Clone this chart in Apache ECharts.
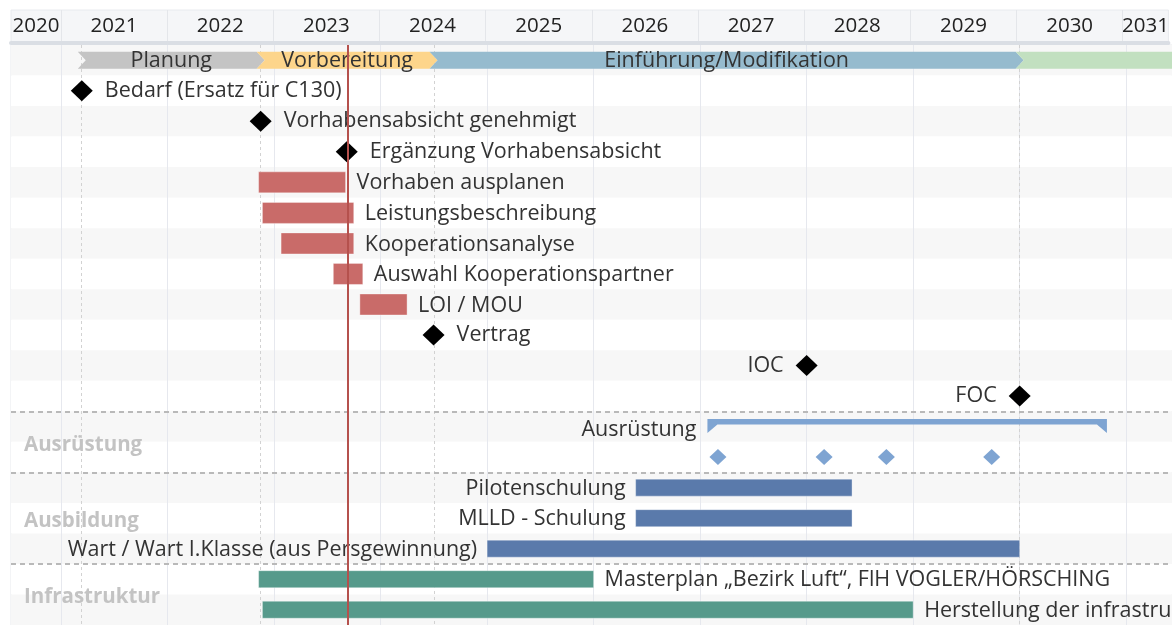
<!DOCTYPE html>
<html lang="de">
<head>
<meta charset="utf-8">
<title>Zeitplan</title>
<script src="https://cdn.jsdelivr.net/npm/echarts@6.0.0/dist/echarts.min.js"></script>
<style>
    html, body { margin: 0; padding: 0; background: #fff; }
    #gantt { width: 1172px; height: 625px; }
</style>
</head>
<body>
<div id="gantt"></div>
<script>
// sichtbarer Zeitraum, Jahresgrenzen, heutiges Datum
var viewStart = '2020-07-13';
var viewEnd = '2031-06-07';
var years = [2020, 2021, 2022, 2023, 2024, 2025, 2026, 2027, 2028, 2029, 2030, 2031];
var today = '2023-09-11';

// Zeilen von oben nach unten
var rowNames = [
    'Phasen',
    'Bedarf (Ersatz für C130)',
    'Vorhabensabsicht genehmigt',
    'Ergänzung Vorhabensabsicht',
    'Vorhaben ausplanen',
    'Leistungsbeschreibung',
    'Kooperationsanalyse',
    'Auswahl Kooperationspartner',
    'LOI / MOU',
    'Vertrag',
    'IOC',
    'FOC',
    'Ausrüstung',
    'Lieferungen',
    'Pilotenschulung',
    'MLLD - Schulung',
    'Wart / Wart I.Klasse (aus Persgewinnung)',
    'Masterplan „Bezirk Luft“, FlH VOGLER/HÖRSCHING',
    'Herstellung der infrastrukturellen Voraussetzungen'
];
var rowGroups = ['', '', '', '', '', '', '', '', '', '', '', '',
    'Ausrüstung', 'Ausrüstung',
    'Ausbildung', 'Ausbildung', 'Ausbildung',
    'Infrastruktur', 'Infrastruktur'];

// Phasen
var phaseNames = ['Planung', 'Vorbereitung', 'Einführung/Modifikation', ''];
var phaseStarts = ['2021-03-13', '2022-11-16', '2024-07-01', '2030-01-01'];
var phaseEnds = ['2022-11-16', '2024-07-01', '2030-01-01', '2036-01-01'];

// Meilensteine
var milestoneNames = ['Bedarf (Ersatz für C130)', 'Vorhabensabsicht genehmigt', 'Ergänzung Vorhabensabsicht', 'Vertrag', 'IOC', 'FOC'];
var milestoneDates = ['2021-03-13', '2022-11-16', '2023-09-07', '2024-07-01', '2028-01-01', '2030-01-01'];

// Vorgänge
var taskNames = [
    'Vorhaben ausplanen',
    'Leistungsbeschreibung',
    'Kooperationsanalyse',
    'Auswahl Kooperationspartner',
    'LOI / MOU',
    'Pilotenschulung',
    'MLLD - Schulung',
    'Wart / Wart I.Klasse (aus Persgewinnung)',
    'Masterplan „Bezirk Luft“, FlH VOGLER/HÖRSCHING',
    'Herstellung der infrastrukturellen Voraussetzungen'
];
var taskStarts = ['2022-11-09', '2022-11-22', '2023-01-25', '2023-07-23', '2023-10-22', '2026-05-25', '2026-05-25', '2025-01-01', '2022-11-09', '2022-11-22'];
var taskEnds = ['2023-09-03', '2023-10-01', '2023-10-01', '2023-11-01', '2024-04-01', '2028-06-05', '2028-06-05', '2030-01-01', '2026-01-01', '2029-01-01'];

// Ausrüstung: Sammelbalken und Lieferungen
var equipName = 'Ausrüstung';
var equipStart = '2027-01-26';
var equipEnd = '2030-10-27';
var deliveryRow = 'Lieferungen';
var deliveryDates = ['2027-03-03', '2028-03-01', '2028-10-01', '2029-09-27'];


var FONT = '"Open Sans", "Noto Sans", sans-serif';
var FS = 21.5;
var phaseColors = ['#c4c4c4', '#fdd58b', '#96bbce', '#c2e0c0'];
var groupColors = { '': '#c96b69', 'Ausbildung': '#5a7aab', 'Infrastruktur': '#569a8b' };
var equipColor = '#7ea4d2';
var labelLeft = ['IOC', 'FOC', 'Ausrüstung', 'Pilotenschulung', 'MLLD - Schulung', 'Wart / Wart I.Klasse (aus Persgewinnung)'];

// Datum -> Jahr mit Nachkommastellen
function toYear(s) {
    var p = s.split('-').map(Number);
    var t = Date.UTC(p[0], p[1] - 1, p[2]);
    var a = Date.UTC(p[0], 0, 1);
    var b = Date.UTC(p[0] + 1, 0, 1);
    return p[0] + (t - a) / (b - a);
}

var xMin = toYear(viewStart);
var xMax = toYear(viewEnd);

// Jahresbeschriftung in der Mitte des sichtbaren Teils
var headerLabelValues = [];
years.forEach(function (y) {
    var a = Math.max(y, xMin), b = Math.min(y + 1, xMax);
    if (b > a) headerLabelValues.push((a + b) / 2);
});

// Gruppen und Trennlinien
var groupList = [];
var groupData = [];
rowGroups.forEach(function (g, i) {
    if (g === '') return;
    var k = groupList.indexOf(g);
    if (k < 0) {
        groupList.push(g);
        groupData.push([i, i + 1]);
    } else {
        groupData[k][1] = i + 1;
    }
});
var separators = [];
for (var i = 1; i < rowGroups.length; i++) {
    if (rowGroups[i] !== rowGroups[i - 1]) separators.push({ yAxis: i });
}

var phaseData = phaseNames.map(function (n, i) {
    return [toYear(phaseStarts[i]), toYear(phaseEnds[i]), 0];
});
var taskData = taskNames.map(function (n, i) {
    return [toYear(taskStarts[i]), toYear(taskEnds[i]), rowNames.indexOf(n)];
});
var milestoneData = milestoneNames.map(function (n, i) {
    return {
        name: n,
        value: [toYear(milestoneDates[i]), rowNames.indexOf(n) + 0.5],
        label: { position: labelLeft.indexOf(n) >= 0 ? 'left' : 'right' }
    };
});
var deliveryData = deliveryDates.map(function (d) {
    return [toYear(d), rowNames.indexOf(deliveryRow) + 0.5];
});
var equipData = [[toYear(equipStart), toYear(equipEnd), rowNames.indexOf(equipName)]];
var boundaryLines = phaseStarts.map(function (d) {
    return { xAxis: toYear(d) };
});


function renderPhase(params, api) {
    var row = api.value(2) + 0.5;
    var s = api.coord([api.value(0), row]);
    var e = api.coord([api.value(1), row]);
    var h = 17, d = 8;
    var y0 = s[1] - h / 2, y1 = s[1] + h / 2;
    var x0 = s[0] - d / 2, x1 = e[0] - d / 2;
    var name = phaseNames[params.dataIndex];
    return {
        type: 'group',
        children: [{
            type: 'polygon',
            shape: { points: [[x0, y0], [x1, y0], [x1 + d, s[1]], [x1, y1], [x0, y1], [x0 + d, s[1]]] },
            style: { fill: phaseColors[params.dataIndex] }
        }, {
            type: 'text',
            style: {
                text: name, x: (s[0] + e[0]) / 2, y: s[1] + 1,
                align: 'center', verticalAlign: 'middle',
                font: FS + 'px ' + FONT, fill: '#333'
            }
        }]
    };
}

function renderTask(params, api) {
    var row = api.value(2) + 0.5;
    var s = api.coord([api.value(0), row]);
    var e = api.coord([api.value(1), row]);
    var name = taskNames[params.dataIndex];
    var grp = rowGroups[api.value(2)];
    var h = grp === '' ? 21 : 17;
    var left = labelLeft.indexOf(name) >= 0;
    return {
        type: 'group',
        children: [{
            type: 'rect',
            shape: { x: s[0], y: s[1] - h / 2, width: e[0] - s[0], height: h },
            style: { fill: groupColors[grp], stroke: 'rgba(255,255,255,0.35)', lineWidth: 1 }
        }, {
            type: 'text',
            style: {
                text: name, x: left ? s[0] - 10 : e[0] + 11, y: s[1] + 1,
                align: left ? 'right' : 'left', verticalAlign: 'middle',
                font: FS + 'px ' + FONT, fill: '#333'
            }
        }]
    };
}

function renderEquip(params, api) {
    var row = api.value(2) + 0.5;
    var s = api.coord([api.value(0), row]);
    var e = api.coord([api.value(1), row]);
    var top = s[1] - 7.5, bot = s[1] - 2, tip = s[1] + 6.5, w = 10;
    return {
        type: 'group',
        children: [{
            type: 'polygon',
            shape: { points: [[s[0], top], [e[0], top], [e[0], tip], [e[0] - w, bot], [s[0] + w, bot], [s[0], tip]] },
            style: { fill: equipColor }
        }, {
            type: 'text',
            style: {
                text: equipName, x: s[0] - 11, y: s[1] + 3,
                align: 'right', verticalAlign: 'middle',
                font: FS + 'px ' + FONT, fill: '#333'
            }
        }]
    };
}

function renderGroupLabel(params, api) {
    var p = api.coord([xMin, (api.value(0) + api.value(1)) / 2]);
    return {
        type: 'text',
        style: {
            text: groupList[params.dataIndex], x: params.coordSys.x + 13, y: p[1] + 3,
            verticalAlign: 'middle', font: 'bold 20.5px ' + FONT, fill: '#c3c3c3'
        }
    };
}

var chart = echarts.init(document.getElementById('gantt'));

var option = {
    animation: false,
    textStyle: { fontFamily: FONT },
    grid: [
        { left: 11, right: -1, top: 10, height: 33, show: true, backgroundColor: '#f5f6f8', borderColor: '#e8eaee', borderWidth: 1 },
        { left: 11, right: -1, top: 45, height: 19 * 30.75, show: true, backgroundColor: 'transparent', borderColor: '#e6e8ec', borderWidth: 1 }
    ],
    xAxis: [{
        gridIndex: 0, type: 'value', position: 'bottom', min: xMin, max: xMax,
        axisLine: { show: true, lineStyle: { color: '#dadee4', width: 4 } },
        axisTick: { show: false, customValues: years },
        splitLine: { show: true, lineStyle: { color: '#e4e6ea', width: 1 } },
        axisLabel: {
            inside: true, margin: 17, verticalAlign: 'middle',
            customValues: headerLabelValues,
            formatter: function (v) { return String(Math.floor(v)); },
            color: '#222', fontSize: 20.5, fontFamily: FONT
        }
    }, {
        gridIndex: 1, type: 'value', min: xMin, max: xMax,
        axisLine: { show: false },
        axisTick: { show: false, customValues: years },
        axisLabel: { show: false },
        splitLine: { show: true, lineStyle: { color: '#e6e8ee', width: 1 } }
    }],
    yAxis: [{
        gridIndex: 0, type: 'value', show: false, min: 0, max: 1
    }, {
        gridIndex: 1, type: 'value', min: 0, max: rowNames.length, interval: 1, inverse: true,
        axisLine: { show: false }, axisTick: { show: false }, axisLabel: { show: false },
        splitLine: { show: false },
        splitArea: { show: true, areaStyle: { color: ['#f7f7f7', '#ffffff'] } }
    }],
    series: [{
        // Hintergrundlinien
        type: 'line', xAxisIndex: 1, yAxisIndex: 1, data: [], z: 1, silent: true,
        markLine: {
            z: 1, symbol: 'none', silent: true, label: { show: false },
            lineStyle: { color: '#d2d2d2', type: [3, 3], width: 1 },
            data: boundaryLines
        }
    }, {
        type: 'line', xAxisIndex: 1, yAxisIndex: 1, data: [], z: 1, silent: true,
        markLine: {
            z: 1, symbol: 'none', silent: true, label: { show: false },
            lineStyle: { color: '#b9b9b9', type: [5, 4], width: 2 },
            data: separators
        }
    }, {
        type: 'custom', xAxisIndex: 1, yAxisIndex: 1, z: 2,
        renderItem: renderGroupLabel, data: groupData, silent: true
    }, {
        type: 'custom', xAxisIndex: 1, yAxisIndex: 1, z: 3,
        renderItem: renderPhase, encode: { x: [0, 1], y: 2 }, data: phaseData
    }, {
        type: 'custom', xAxisIndex: 1, yAxisIndex: 1, z: 3,
        renderItem: renderTask, encode: { x: [0, 1], y: 2 }, data: taskData
    }, {
        type: 'custom', xAxisIndex: 1, yAxisIndex: 1, z: 3,
        renderItem: renderEquip, encode: { x: [0, 1], y: 2 }, data: equipData
    }, {
        type: 'scatter', xAxisIndex: 1, yAxisIndex: 1, z: 4,
        symbol: 'diamond', symbolSize: [17, 16],
        itemStyle: { color: equipColor, opacity: 1 },
        data: deliveryData
    }, {
        type: 'scatter', xAxisIndex: 1, yAxisIndex: 1, z: 4,
        symbol: 'diamond', symbolSize: [22, 21],
        itemStyle: { color: '#000', opacity: 1 },
        label: {
            show: true, distance: 12, formatter: '{b}',
            fontSize: FS, fontFamily: FONT, color: '#333', opacity: 1
        },
        data: milestoneData
    }, {
        // heute
        type: 'line', xAxisIndex: 1, yAxisIndex: 1, data: [], z: 10, silent: true,
        markLine: {
            z: 10, symbol: 'none', silent: true, label: { show: false },
            lineStyle: { color: '#b5514d', type: 'solid', width: 2 },
            data: [{ xAxis: toYear(today) }]
        }
    }]
};

chart.setOption(option);
</script>
</body>
</html>
